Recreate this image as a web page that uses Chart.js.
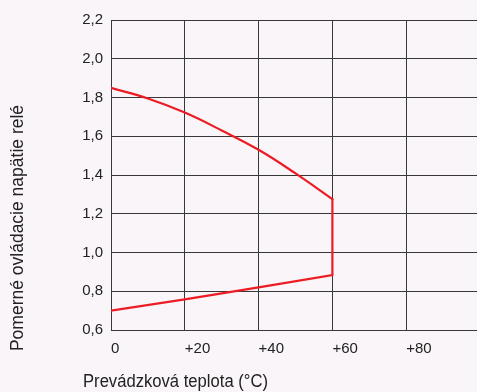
<!DOCTYPE html>
<html>
<head>
<meta charset="utf-8">
<script src="https://cdn.jsdelivr.net/npm/chart.js@4.4.0/dist/chart.umd.min.js"></script>
<style>
  html, body { margin: 0; padding: 0; overflow: hidden; background: #faf5f9; }
  #wrap { width: 540px; height: 392px; }
</style>
</head>
<body>
<div id="wrap"><canvas id="graf" width="540" height="392"></canvas></div>
<script>
// hodnoty odčítané z grafu
var teplotaHore = [0, 10, 20, 30, 40, 50, 60];
var napatieHore = [1.85, 1.795, 1.722, 1.63, 1.53, 1.408, 1.275];
var teplotaDole = [60, 60, 40, 20, 0];
var napatieDole = [1.275, 0.884, 0.82, 0.758, 0.70];

var xTicky = [0, 20, 40, 60, 80, 100];
var xPopisy = ["0", "+20", "+40", "+60", "+80", "+100"];
var yTicky = [0.6, 0.8, 1.0, 1.2, 1.4, 1.6, 1.8, 2.0, 2.2];

var nazovX = "Prevádzková teplota (°C)";
var nazovY = "Pomerné ovládacie napätie relé";

function body(xs, ys) {
  var out = [];
  xs.forEach(function (x, i) { out.push({ x: x, y: ys[i] }); });
  return out;
}

var cervena = "#ec1c24";
var mriezka = "#383838";

var popisyOsi = {
  id: "popisyOsi",
  afterDraw: function (chart) {
    var c = chart.ctx;
    c.save();
    c.fillStyle = "#222";
    c.font = "17.5px 'Liberation Sans', Arial, sans-serif";
    c.textBaseline = "middle";
    c.textAlign = "left";
    c.fillText(nazovX, 83, 382, 185);
    c.translate(18, 228);
    c.rotate(-Math.PI / 2);
    c.textAlign = "center";
    c.fillText(nazovY, 0, 0, 250);
    c.restore();
  },
};

var ctx = document.getElementById("graf");
var graf = new Chart(ctx, {
  type: "scatter",
  data: {
    datasets: [
      {
        data: body(teplotaHore, napatieHore),
        showLine: true,
        borderColor: cervena,
        borderWidth: 2.2,
        pointRadius: 0,
        tension: 0.4,
        borderCapStyle: "round",
      },
      {
        data: body(teplotaDole, napatieDole),
        showLine: true,
        borderColor: cervena,
        borderWidth: 2.2,
        pointRadius: 0,
        tension: 0,
        borderCapStyle: "round",
      },
    ],
  },
  options: {
    responsive: false,
    animation: false,
    layout: { padding: { top: 20, right: 60, bottom: 0, left: 0 } },
    plugins: { legend: { display: false }, tooltip: { enabled: false } },
    scales: {
      x: {
        type: "linear",
        min: 0,
        max: 100,
        afterBuildTicks: function (s) { s.ticks = xTicky.map(function (v) { return { value: v }; }); },
        afterFit: function (s) { s.height = 62; },
        grid: { color: mriezka, lineWidth: 1, drawTicks: false },
        border: { color: mriezka, width: 1 },
        ticks: {
          align: "start",
          padding: 10,
          color: "#222",
          font: { family: "'Liberation Sans', Arial, sans-serif", size: 15 },
          callback: function (v) { return xPopisy[xTicky.indexOf(v)]; },
        },
      },
      y: {
        min: 0.6,
        max: 2.2,
        afterBuildTicks: function (s) { s.ticks = yTicky.map(function (v) { return { value: v }; }); },
        afterFit: function (s) { s.width = 111; },
        grid: { color: mriezka, lineWidth: 1, drawTicks: false },
        border: { color: mriezka, width: 1 },
        ticks: {
          padding: 8,
          color: "#222",
          font: { family: "'Liberation Sans', Arial, sans-serif", size: 15 },
          callback: function (v) { return v.toFixed(1).replace(".", ","); },
        },
      },
    },
  },
  plugins: [popisyOsi],
});
</script>
</body>
</html>
